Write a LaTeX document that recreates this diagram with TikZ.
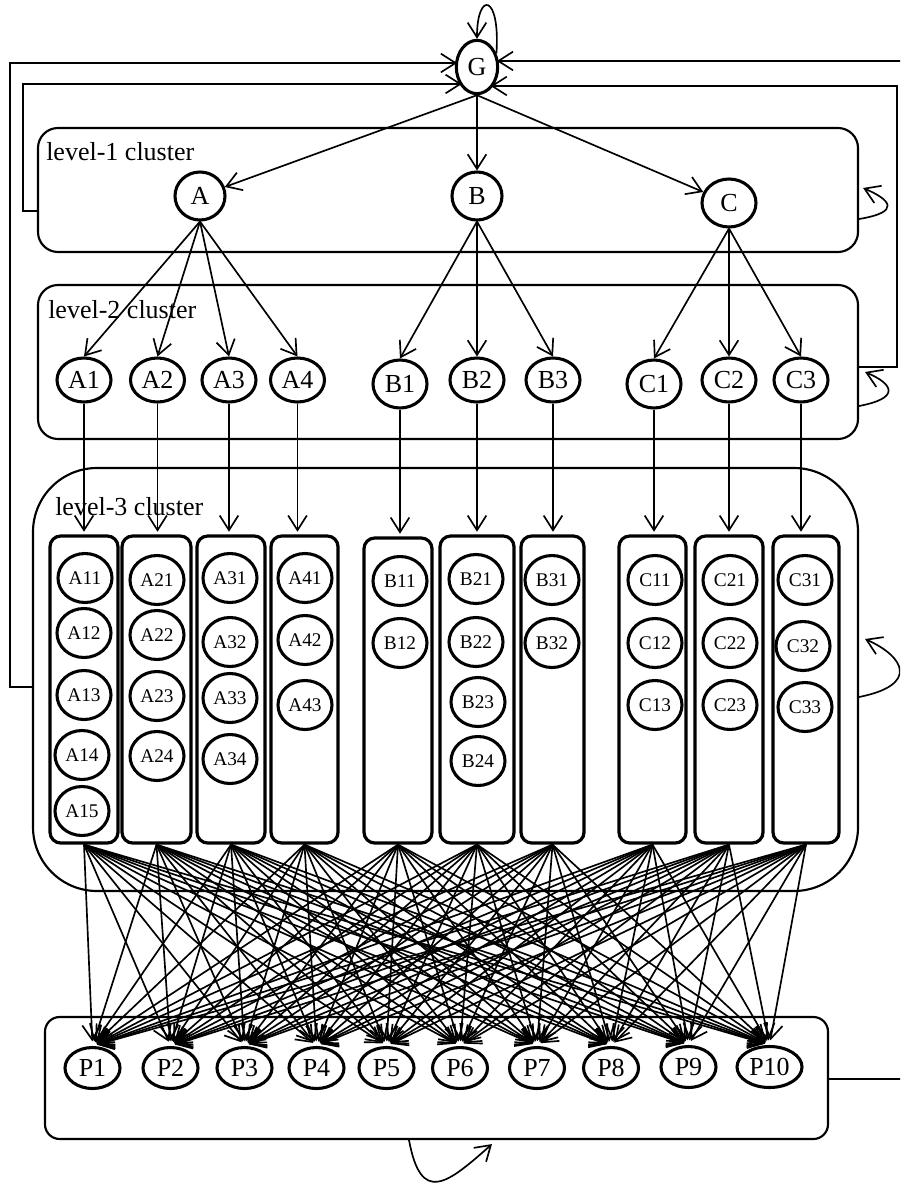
\documentclass[tikz,border=0pt]{standalone}
\usepackage{fontspec}
\setmainfont{Liberation Serif}
\usetikzlibrary{arrows.meta,shapes.geometric,calc}
\begin{document}
\begin{tikzpicture}[x=0.75pt,y=-0.75pt,
  arr/.style={-{Straight Barb[length=11pt,width=14pt]},line width=1.25pt},
  nd/.style={ellipse,draw,line width=2.3pt,inner sep=0pt,font=\fontsize{19.5}{21}\selectfont},
  gnode/.style={nd,minimum width=31pt,minimum height=40pt},
  topn/.style={nd,minimum width=37.5pt,minimum height=36pt},
  midn/.style={nd,minimum width=40.5pt,minimum height=33pt},
  midt/.style={nd,minimum width=40.5pt,minimum height=36pt},
  inn/.style={nd,minimum width=40.5pt,minimum height=36.75pt,font=\fontsize{14.5}{16}\selectfont},
  pn/.style={nd,minimum width=41.25pt,minimum height=30.75pt},
  clus/.style={draw,line width=1.6pt,rounded corners=15pt,inner sep=0pt},
  sub/.style={draw,line width=2.4pt,rounded corners=8pt,minimum width=51pt,minimum height=230.25pt,inner sep=0pt},
  lab/.style={anchor=base west,font=\fontsize{19.5}{21}\selectfont,inner sep=0pt}
]
\useasboundingbox (0,0) rectangle (900,1184);
\clip (0,0) rectangle (900,1184);

% clusters
\node[clus,minimum width=615pt,minimum height=93pt] (L1) at (448,190) {};
\node[clus,minimum width=615pt,minimum height=115.5pt] (L2) at (448,362) {};
\node[clus,rounded corners=48pt,minimum width=618.75pt,minimum height=317.25pt] (L3) at (445.5,679.5) {};
\node[clus,rounded corners=11pt,minimum width=587.25pt,minimum height=91.5pt] (LP) at (436.5,1078) {};

\node[lab] (l1) at (46,161) {level-1 cluster};
\node[lab] (l2) at (48,318) {level-2 cluster};
\node[lab] (l3) at (55,515) {level-3 cluster};

% sub boxes
\node[sub] (SA1) at (84,689.5) {};
\node[sub,minimum width=51.75pt] (SA2) at (156.5,689.5) {};
\node[sub] (SA3) at (231,689.5) {};
\node[sub,minimum width=50.25pt] (SA4) at (304.5,689.5) {};
\node[sub,minimum height=228.75pt] (SB1) at (398,690.5) {};
\node[sub,minimum width=55.5pt] (SB2) at (477,689.5) {};
\node[sub,minimum width=47.25pt] (SB3) at (552.5,689.5) {};
\node[sub,minimum width=50.25pt] (SC1) at (652.5,689.5) {};
\node[sub] (SC2) at (729,689.5) {};
\node[sub,minimum width=49.5pt] (SC3) at (806,689.5) {};

% nodes
\node[gnode] (G) at (477,67) {G};
\node[topn] (A) at (200,196) {A};
\node[topn] (B) at (477,196) {B};
\node[midt] (C) at (729,203) {C};

\node[midn] (A1) at (84,380) {A1};
\node[midn] (A2) at (157.5,380) {A2};
\node[midn] (A3) at (229,380) {A3};
\node[midn] (A4) at (297.5,380) {A4};
\node[midt] (B1) at (400,384) {B1};
\node[midn] (B2) at (477,380) {B2};
\node[midn] (B3) at (553,380) {B3};
\node[midt] (C1) at (654,384) {C1};
\node[midn] (C2) at (729,380) {C2};
\node[midn] (C3) at (801,380) {C3};

\node[inn] (A11) at (85,578) {A11};
\node[inn] (A12) at (84,633) {A12};
\node[inn] (A13) at (84,695) {A13};
\node[inn] (A14) at (82,755) {A14};
\node[inn] (A15) at (82,811) {A15};
\node[inn] (A21) at (157,580) {A21};
\node[inn] (A22) at (157,635) {A22};
\node[inn] (A23) at (157,696) {A23};
\node[inn] (A24) at (157,756) {A24};
\node[inn] (A31) at (230,578) {A31};
\node[inn] (A32) at (230,642) {A32};
\node[inn] (A33) at (230,698) {A33};
\node[inn] (A34) at (230,759) {A34};
\node[inn] (A41) at (305,578) {A41};
\node[inn] (A42) at (305,640) {A42};
\node[inn] (A43) at (305,705) {A43};
\node[inn] (B11) at (400,581) {B11};
\node[inn] (B12) at (400,643) {B12};
\node[inn] (B21) at (476,579) {B21};
\node[inn] (B22) at (476,642) {B22};
\node[inn] (B23) at (478,702) {B23};
\node[inn] (B24) at (478,761) {B24};
\node[inn] (B31) at (552,580) {B31};
\node[inn] (B32) at (552,643) {B32};
\node[inn] (C11) at (655,580) {C11};
\node[inn] (C12) at (655,643) {C12};
\node[inn] (C13) at (655,705) {C13};
\node[inn] (C21) at (730,580) {C21};
\node[inn] (C22) at (730,643) {C22};
\node[inn] (C23) at (730,705) {C23};
\node[inn] (C31) at (805,580) {C31};
\node[inn] (C32) at (803,646) {C32};
\node[inn] (C33) at (805,707) {C33};

\node[pn] (P1) at (92.5,1068) {P1};
\node[pn] (P2) at (170.5,1068) {P2};
\node[pn] (P3) at (244.5,1068) {P3};
\node[pn] (P4) at (316.5,1068) {P4};
\node[pn] (P5) at (386.5,1068) {P5};
\node[pn] (P6) at (460,1068) {P6};
\node[pn] (P7) at (537,1068) {P7};
\node[pn] (P8) at (611,1068) {P8};
\node[pn] (P9) at (688.5,1067) {P9};
\node[pn,minimum width=48.75pt] (P10) at (769.5,1067) {P10};

% G edges
\draw[arr] (G.35) .. controls +(4,-60) and +(0,-48) .. (G.north);
\draw[arr] (G.south) -- (A);
\draw[arr] (G.south) -- (B.north);
\draw[arr] (G.south) -- (C);

\foreach \n in {A1,A2,A3,A4} \draw[arr] (A.south) -- (\n.north);
\foreach \n in {B1,B2,B3} \draw[arr] (B.south) -- (\n.north);
\foreach \n in {C1,C2,C3} \draw[arr] (C.south) -- (\n.north);

\foreach \n in {A1,A2,A3,A4,B1,B2,B3,C1,C2,C3}
  \draw[arr,shorten >=2pt] (\n.south) -- (\n.south |- S\n.north);

\foreach \s in {SA1,SA2,SA3,SA4,SB1,SB2,SB3,SC1,SC2,SC3}
  \foreach \p in {1,...,10}
    \draw[arr,shorten >=3.5pt] (\s.south) -- (P\p.north);

% feedback connectors to G
\draw[arr] (L3.west |- 0,687) -- (10,687) -- (10,63) -- ($(G.center)+(-19.9,-4)$);
\draw[arr] (L1.west |- 0,211) -- (23,211) -- (23,84) -- ($(G.center)+(-15.2,17)$);
\draw[arr] (LP.east |- 0,1079) -- (910,1079) -- (910,61) -- ($(G.center)+(19.8,-6)$);
\draw[arr] (L2.east |- 0,367) -- (897,367) -- (897,86) -- ($(G.center)+(13.6,19)$);

% cluster self loops
\draw[arr] (L1.east |- 0,219) .. controls +(42,-7) and +(28,12) .. +(4,-31);
\draw[arr] (L2.east |- 0,406) .. controls +(42,-8) and +(28,12) .. +(6,-34);
\draw[arr] (L3.east |- 0,697) .. controls +(60,-12) and +(40,18) .. +(6,-58);
\draw[arr] (LP.south -| 409,0) .. controls +(12,65) and +(-45,40) .. +(83,4);
\end{tikzpicture}
\end{document}
